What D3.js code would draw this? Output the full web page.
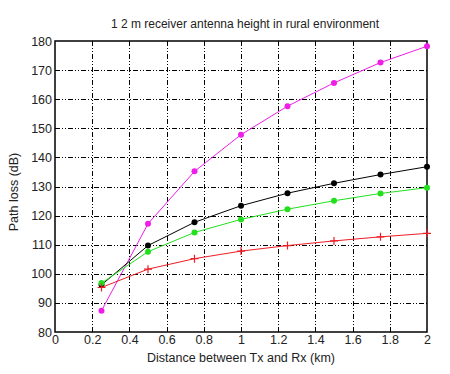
<!DOCTYPE html>
<html>
<head>
<meta charset="utf-8">
<script src="https://cdn.jsdelivr.net/npm/d3@7"></script>
<style>
  body { margin: 0; background: #fff; }
  text { font-family: "Liberation Sans", Arial, sans-serif; fill: #222; }
</style>
</head>
<body>
<script>
// distances (km)
const distance = [0.25, 0.5, 0.75, 1, 1.25, 1.5, 1.75, 2]
// path loss (dB) per model
const magenta = [87.3, 117.2, 135.2, 147.8, 157.6, 165.6, 172.6, 178.2]
const black   = [96.2, 109.7, 117.7, 123.4, 127.7, 131.1, 134.1, 136.8]
const green   = [96.8, 107.6, 114.2, 118.7, 122.2, 125.1, 127.6, 129.6]
const red     = [95.3, 101.6, 105.2, 107.8, 109.7, 111.3, 112.7, 113.9]
const xTicks = [0, 0.2, 0.4, 0.6, 0.8, 1, 1.2, 1.4, 1.6, 1.8, 2]
const yTicks = [80, 90, 100, 110, 120, 130, 140, 150, 160, 170, 180]

const width = 450, height = 374
const m = {left: 55, right: 23, top: 41, bottom: 42}

const svg = d3.select("body").append("svg")
  .attr("width", width).attr("height", height)

const x = d3.scaleLinear().domain([0, 2]).range([m.left, width - m.right])
const y = d3.scaleLinear().domain([80, 180]).range([height - m.bottom, m.top])

// grid
const dash = "5,2,1,2,1,2"
svg.selectAll(".vg").data(xTicks.slice(1, -1)).enter().append("line")
  .attr("x1", d => Math.round(x(d)) + 0.5).attr("x2", d => Math.round(x(d)) + 0.5)
  .attr("y1", y(80)).attr("y2", y(180))
  .attr("stroke", "#000").attr("stroke-width", 1).attr("stroke-dasharray", dash)
svg.selectAll(".hg").data(yTicks.slice(1, -1)).enter().append("line")
  .attr("y1", d => Math.round(y(d)) + 0.5).attr("y2", d => Math.round(y(d)) + 0.5)
  .attr("x1", x(0)).attr("x2", x(2))
  .attr("stroke", "#000").attr("stroke-width", 1).attr("stroke-dasharray", dash)

// frame
svg.append("rect")
  .attr("x", x(0)).attr("y", y(180))
  .attr("width", x(2) - x(0)).attr("height", y(80) - y(180))
  .attr("fill", "none").attr("stroke", "#000").attr("stroke-width", 1.5)

// axes
const xAxis = svg.append("g").attr("transform", `translate(0,${y(80)})`)
  .call(d3.axisBottom(x).tickValues(xTicks).tickSize(0).tickPadding(3)
    .tickFormat(d => d === 0 || d === 1 || d === 2 ? d : d3.format(".1f")(d)))
xAxis.select(".domain").remove()
xAxis.selectAll("text").style("font-size", "12.5px").attr("fill", "#222")

const yAxis = svg.append("g").attr("transform", `translate(${x(0)},0)`)
  .call(d3.axisLeft(y).tickValues(yTicks).tickSize(0).tickPadding(3))
yAxis.select(".domain").remove()
yAxis.selectAll("text").style("font-size", "12.5px").attr("fill", "#222")

// series
const series = [
  {v: magenta, c: "#ee1ee8", mk: "dot"},
  {v: black, c: "#000", mk: "dot"},
  {v: green, c: "#22e01c", mk: "dot"},
  {v: red, c: "#ee1c24", mk: "plus"}
]
const line = d3.line().x(d => x(d[0])).y(d => y(d[1]))

series.forEach(s => {
  const pts = distance.map((d, i) => [d, s.v[i]])
  svg.append("path").datum(pts).attr("d", line)
    .attr("fill", "none").attr("stroke", s.c).attr("stroke-width", 1)
  if (s.mk === "dot") {
    svg.selectAll(null).data(pts).enter().append("circle")
      .attr("cx", d => x(d[0])).attr("cy", d => y(d[1])).attr("r", 3)
      .attr("fill", s.c)
  } else {
    svg.selectAll(null).data(pts).enter().append("path")
      .attr("d", d => `M${x(d[0]) - 4},${y(d[1])}h8M${x(d[0])},${y(d[1]) - 4}v8`)
      .attr("stroke", s.c).attr("stroke-width", 1.2)
  }
})

// labels
svg.append("text").attr("x", 245).attr("y", 28).attr("text-anchor", "middle")
  .style("font-size", "12px").text("1 2 m receiver antenna height in rural environment")
svg.append("text").attr("x", 241).attr("y", 362).attr("text-anchor", "middle")
  .style("font-size", "12.5px").text("Distance between Tx and Rx (km)")
svg.append("text").attr("transform", "translate(18,192) rotate(-90)")
  .attr("text-anchor", "middle").style("font-size", "12.5px").text("Path loss (dB)")
</script>
</body>
</html>
